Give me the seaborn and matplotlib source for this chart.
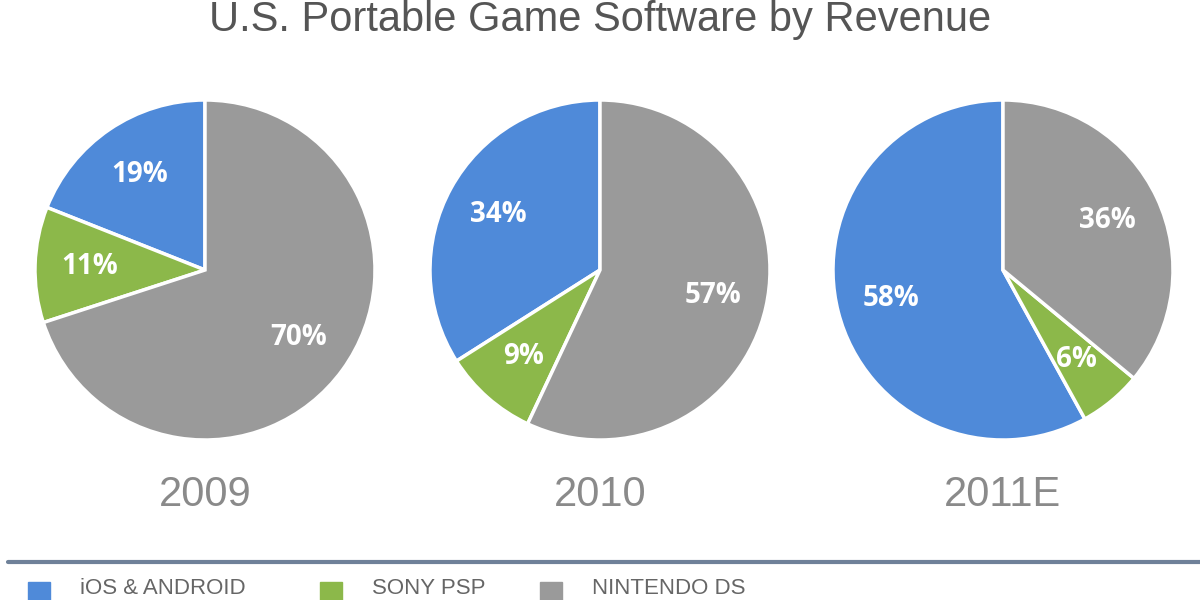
import matplotlib
matplotlib.use("Agg")
import matplotlib.pyplot as plt
import seaborn as sns

# ─────────────────────────────────────────────
# Data
# ─────────────────────────────────────────────
years = ["2009", "2010", "2011E"]
platforms = ["iOS & ANDROID", "SONY PSP", "NINTENDO DS"]
share_2009 = [19, 11, 70]
share_2010 = [34, 9, 57]
share_2011 = [58, 6, 36]
shares = [share_2009, share_2010, share_2011]

sns.set_theme(style="white", font="Liberation Sans")
colors = sns.color_palette(["#4f8ad9", "#8cb84a", "#9a9a9a"])

fig = plt.figure(figsize=(12, 6), dpi=100)
fig.patch.set_facecolor("white")

centers_x = [205, 600, 1003]
r = 170
for cx, year, vals in zip(centers_x, years, shares):
    ax = fig.add_axes([(cx - r) / 1200, (600 - 270 - r) / 600, 2 * r / 1200, 2 * r / 600])
    ax.pie(vals, colors=colors, startangle=90, counterclock=True,
           autopct="%d%%", pctdistance=0.68, radius=1.0,
           wedgeprops=dict(edgecolor="white", linewidth=2.5),
           textprops=dict(color="white", fontsize=20, fontweight="bold",
                          family="Open Sans"))
    ax.set_xlim(-1, 1)
    ax.set_ylim(-1, 1)
    ax.set_aspect("equal")
    ax.axis("off")
    fig.text(cx / 1200, 1 - 495 / 600, year, ha="center", va="center",
             fontsize=30, color="#8a8a8a", family="Liberation Sans")

fig.text(0.5, 1 - 20 / 600, "U.S. Portable Game Software by Revenue",
         ha="center", va="center", fontsize=30, color="#555555")

# separator line
fig.add_artist(plt.Line2D([8 / 1200, 1], [1 - 562 / 600] * 2,
                          color="#6f8199", lw=3))

# legend swatches
leg_x = [28, 320, 540]
for x, c, name in zip(leg_x, colors, platforms):
    fig.add_artist(plt.Rectangle((x / 1200, 0), 22 / 1200, 18 / 600,
                                 color=c, transform=fig.transFigure))
    fig.text((x + 52) / 1200, 12 / 600, name, ha="left", va="center",
             fontsize=16, color="#666666")

fig.savefig("out.png", dpi=100)
